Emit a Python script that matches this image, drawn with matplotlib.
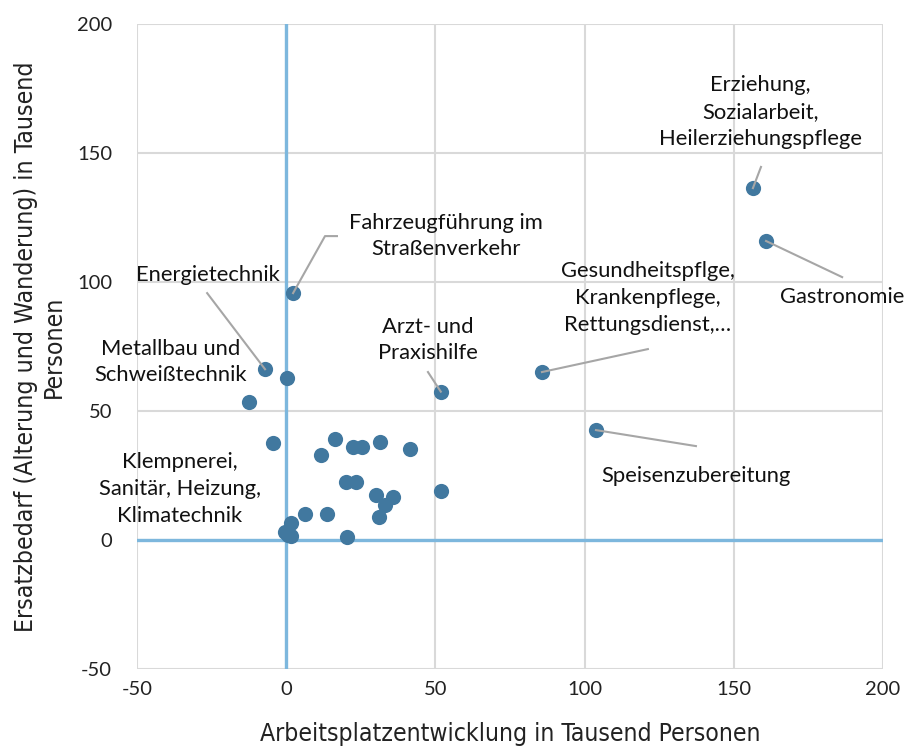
import numpy as np
import matplotlib.pyplot as plt

# Arbeitsplatzentwicklung (x) und Ersatzbedarf (y), Tausend Personen
x_vals = [156.4, 160.8, 85.7, 103.8, 51.8, 2.3, -7.1, 0.2, -12.5, -4.3,
          16.4, 11.7, 22.3, 25.5, 31.4, 41.6, 19.9, 23.3, 30.0, 35.9,
          33.1, 31.0, 51.8, 6.4, 13.7, 1.5, 0.7, -0.4, 1.5, 20.4]
y_vals = [136.4, 115.9, 65.1, 42.6, 57.5, 95.7, 66.2, 62.7, 53.6, 37.5,
          39.0, 32.9, 35.9, 35.9, 38.1, 35.4, 22.4, 22.4, 17.4, 16.8,
          13.6, 9.0, 19.1, 10.1, 10.1, 6.5, 1.9, 3.2, 1.5, 1.3]

# Beschriftungen: Text, Index des Punktes (None = ohne Linie), Textposition, Linienstart
labels = [
    ("Erziehung,\nSozialarbeit,\nHeilerziehungspflege", 0, (158.8, 165.9), (159.1, 144.6)),
    ("Gastronomie", 1, (186.3, 94.2), (186.3, 101.9)),
    ("Gesundheitspflge,\nKrankenpflege,\nRettungsdienst,…", 2, (121.2, 93.8), (121.2, 74.0)),
    ("Speisenzubereitung", 3, (137.3, 24.8), (137.3, 36.4)),
    ("Arzt- und\nPraxishilfe", 4, (47.5, 77.5), (47.5, 65.1)),
    ("Fahrzeugführung im\nStraßenverkehr", 5, (53.6, 117.8), (17.0, 117.8)),
    ("Energietechnik", 6, (-26.2, 102.7), (-26.5, 95.7)),
    ("Metallbau und\nSchweißtechnik", None, (-38.9, 69.0), None),
    ("Klempnerei,\nSanitär, Heizung,\nKlimatechnik", None, (-35.6, 19.8), None),
]

ticks = [-50, 0, 50, 100, 150, 200]

plt.rcParams['font.family'] = ['Lato', 'DejaVu Sans']
plt.rcParams['axes.unicode_minus'] = False

fig = plt.figure(figsize=(9.08, 7.51), dpi=100)
ax = fig.add_axes([0.1509, 0.1092, 0.8216, 0.8588])

ax.set_xlim(-50, 200)
ax.set_ylim(-50, 200)
ax.set_xticks(ticks)
ax.set_yticks(ticks)
ax.tick_params(length=0, labelsize=14.5, colors='#222222')
ax.tick_params(axis='y', pad=18)
ax.tick_params(axis='x', pad=9)
for s in ax.spines.values():
    s.set_visible(False)
ax.grid(True, color='#d9d9d9', linewidth=1.5, zorder=0)
ax.set_axisbelow(True)

ax.axhline(0, color='#7db7dd', linewidth=2.4, zorder=1)
ax.axvline(0, color='#7db7dd', linewidth=2.4, zorder=1)

ax.scatter(x_vals, y_vals, s=120, color='#41789f', zorder=3, linewidths=0)

for text, idx, tpos, lstart in labels:
    ax.text(tpos[0], tpos[1], text, ha='center', va='center', fontsize=15.8,
            linespacing=1.42, color='#111111', zorder=5)
    if idx is not None:
        if idx == 5:
            xs = [lstart[0], 13.0, x_vals[idx]]
            ys = [lstart[1], lstart[1], y_vals[idx]]
        else:
            xs = [lstart[0], x_vals[idx]]
            ys = [lstart[1], y_vals[idx]]
        ax.plot(xs, ys, color='#a6a6a6', linewidth=1.5, zorder=4)

ax.set_xlabel("Arbeitsplatzentwicklung in Tausend Personen",
              fontsize=17.7, family='DejaVu Sans', stretch='condensed',
              color='#222222', labelpad=17)
ax.set_ylabel("Ersatzbedarf (Alterung und Wanderung) in Tausend\nPersonen",
              fontsize=17.8, family='DejaVu Sans', stretch='condensed',
              color='#222222', labelpad=8)

fig.savefig("out.png", dpi=100)
